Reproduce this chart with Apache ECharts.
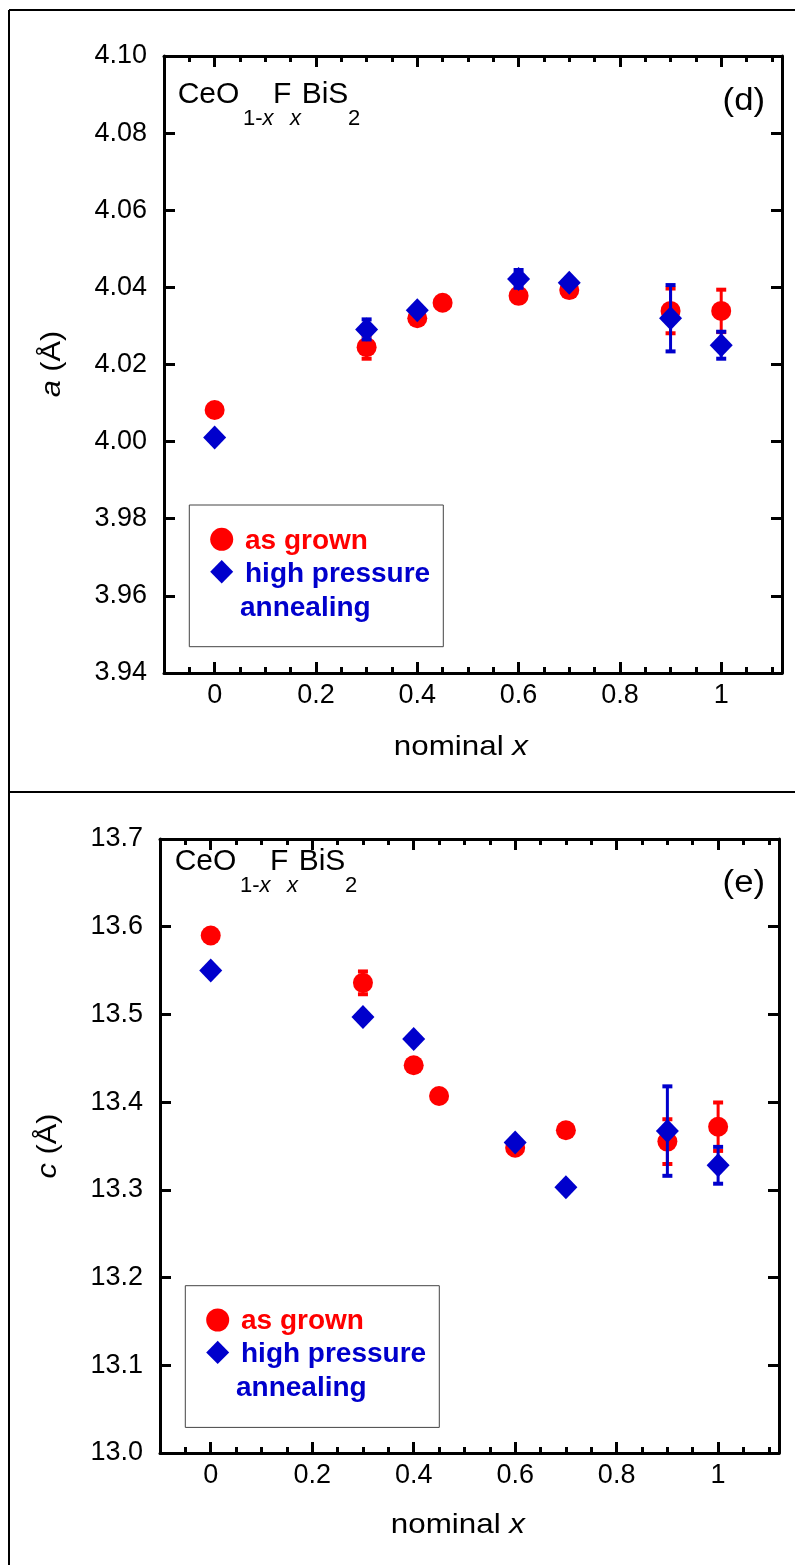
<!DOCTYPE html>
<html>
<head>
<meta charset="utf-8">
<script src="https://cdn.jsdelivr.net/npm/echarts@6/dist/echarts.min.js"></script>
<style>
html,body{margin:0;padding:0;background:#fff;}
#chart{width:795px;height:1565px;}
</style>
</head>
<body>
<div id="chart"></div>
<script>
// ---------- data ----------
const xGrown = [0, 0.3, 0.4, 0.45, 0.6, 0.7, 0.9, 1.0];
const xHP = [0, 0.3, 0.4, 0.6, 0.7, 0.9, 1.0];

const aGrown    = [4.0082, 4.0245, 4.0320, 4.0360, 4.0378, 4.0393, 4.0339, 4.0339];
const aGrownErr = [0, 0.0030, 0, 0, 0, 0, 0.0058, 0.0055];
const aHP       = [4.0011, 4.0291, 4.0341, 4.0422, 4.0412, 4.0320, 4.0250];
const aHPErr    = [0, 0.0026, 0, 0.0023, 0, 0.0086, 0.0035];

const cGrown    = [13.590, 13.536, 13.442, 13.407, 13.348, 13.368, 13.355, 13.372];
const cGrownErr = [0, 0.013, 0, 0, 0, 0, 0.0255, 0.0276];
const cHP       = [13.550, 13.497, 13.472, 13.354, 13.303, 13.367, 13.328];
const cHPErr    = [0, 0, 0, 0, 0, 0.051, 0.021];

const xMajor = [0, 0.2, 0.4, 0.6, 0.8, 1.0];
const xMinor = [-0.05, 0.05, 0.1, 0.15, 0.25, 0.3, 0.35, 0.45, 0.5, 0.55, 0.65, 0.7, 0.75, 0.85, 0.9, 0.95, 1.05, 1.1];
const xLabels = ['0', '0.2', '0.4', '0.6', '0.8', '1'];

const legendGrown = 'as grown';
const legendHP1 = 'high pressure';
const legendHP2 = 'annealing';

// ---------- helpers ----------
const RED = '#ff0000', BLUE = '#0000cc';
const FONT = '"Liberation Sans", Arial, Helvetica, sans-serif';

function pairs(xs, ys, es) { return xs.map((x, i) => [x, ys[i], es[i]]); }

function errRender(color) {
  return function (params, api) {
    const x = api.value(0), y = api.value(1), e = api.value(2);
    if (!e) return null;
    const t = api.coord([x, y + e]), b = api.coord([x, y - e]);
    const hw = 5;
    return {
      type: 'group', children: [
        { type: 'line', shape: { x1: t[0], y1: t[1], x2: b[0], y2: b[1] }, style: { stroke: color, lineWidth: 3 } },
        { type: 'line', shape: { x1: t[0] - hw, y1: t[1], x2: t[0] + hw, y2: t[1] }, style: { stroke: color, lineWidth: 4 } },
        { type: 'line', shape: { x1: b[0] - hw, y1: b[1], x2: b[0] + hw, y2: b[1] }, style: { stroke: color, lineWidth: 4 } }
      ]
    };
  };
}

function xAxes(gi) {
  const base = { type: 'value', gridIndex: gi, min: -0.1, max: 1.12, splitLine: { show: false } };
  const line = { show: true, onZero: false, lineStyle: { color: '#000', width: 3 } };
  return [
    Object.assign({}, base, {
      position: 'bottom', axisLine: line,
      axisTick: { show: true, inside: true, length: 11, lineStyle: { color: '#000', width: 3 }, customValues: xMajor },
      axisLabel: { show: true, margin: 9, color: '#000', fontSize: 27, fontFamily: FONT, customValues: xMajor,
        formatter: v => xLabels[xMajor.findIndex(m => Math.abs(m - v) < 1e-6)] }
    }),
    Object.assign({}, base, {
      position: 'bottom', axisLine: { show: false },
      axisTick: { show: true, inside: true, length: 6, lineStyle: { color: '#000', width: 3 }, customValues: xMinor },
      axisLabel: { show: false }
    }),
    Object.assign({}, base, {
      position: 'top', axisLine: line,
      axisTick: { show: true, inside: true, length: 11, lineStyle: { color: '#000', width: 3 }, customValues: xMajor },
      axisLabel: { show: false }
    }),
    Object.assign({}, base, {
      position: 'top', axisLine: { show: false },
      axisTick: { show: true, inside: true, length: 6, lineStyle: { color: '#000', width: 3 }, customValues: xMinor },
      axisLabel: { show: false }
    })
  ];
}

function yAxes(gi, min, max, interval, dec) {
  const base = { type: 'value', gridIndex: gi, min: min, max: max, interval: interval, splitLine: { show: false } };
  const line = { show: true, onZero: false, lineStyle: { color: '#000', width: 3 } };
  const tick = { show: true, inside: true, length: 11, lineStyle: { color: '#000', width: 3 } };
  return [
    Object.assign({}, base, {
      position: 'left', axisLine: line, axisTick: tick,
      axisLabel: { show: true, margin: 17, color: '#000', fontSize: 27, fontFamily: FONT, formatter: v => v.toFixed(dec) }
    }),
    Object.assign({}, base, {
      position: 'right', axisLine: line, axisTick: tick, axisLabel: { show: false }
    })
  ];
}

function panelSeries(gi, yGrown, eGrown, yHP, eHP) {
  const xi = gi * 4, yi = gi * 2;
  return [
    { type: 'custom', xAxisIndex: xi, yAxisIndex: yi, renderItem: errRender(RED), data: pairs(xGrown, yGrown, eGrown), encode: { x: 0, y: 1 }, z: 2 },
    { type: 'scatter', xAxisIndex: xi, yAxisIndex: yi, symbol: 'circle', symbolSize: 20, itemStyle: { color: RED, opacity: 1 },
      data: xGrown.map((x, i) => [x, yGrown[i]]), z: 3 },
    { type: 'custom', xAxisIndex: xi, yAxisIndex: yi, renderItem: errRender(BLUE), data: pairs(xHP, yHP, eHP), encode: { x: 0, y: 1 }, z: 4 },
    { type: 'scatter', xAxisIndex: xi, yAxisIndex: yi, symbol: 'diamond', symbolSize: [23, 24], itemStyle: { color: BLUE, opacity: 1 },
      data: xHP.map((x, i) => [x, yHP[i]]), z: 5 }
  ];
}

function txt(x, y, text, size, opts) {
  return Object.assign({
    type: 'text', x: x, y: y, z: 100,
    style: Object.assign({ text: text, font: size + 'px ' + FONT, fill: '#000', align: 'left', verticalAlign: 'middle' }, (opts && opts.style) || {})
  }, opts && opts.el || {});
}

function formula(dx, dy) {
  const M = 30, S = 22;
  return [
    txt(177.7 + dx, 95 + dy, 'CeO', M),
    { type: 'text', x: 243 + dx, y: 119 + dy, z: 100, style: { text: '{n|1-}{i|x}', align: 'left', verticalAlign: 'middle',
      rich: { n: { fontSize: S, fontFamily: FONT, fill: '#000' }, i: { fontSize: S, fontFamily: FONT, fontStyle: 'italic', fill: '#000' } } } },
    txt(273 + dx, 95 + dy, 'F', M),
    { type: 'text', x: 290 + dx, y: 119 + dy, z: 100, style: { text: 'x', font: 'italic ' + S + 'px ' + FONT, fill: '#000', align: 'left', verticalAlign: 'middle' } },
    txt(301.7 + dx, 95 + dy, 'BiS', M),
    txt(348 + dx, 119 + dy, '2', S)
  ];
}

function legendBox(dx, dy) {
  return [
    { type: 'rect', shape: { x: 189.3 + dx, y: 505 + dy, width: 254, height: 141.7 }, style: { fill: '#fff', stroke: '#444', lineWidth: 1 }, z: 90 },
    { type: 'circle', shape: { cx: 221.7 + dx, cy: 539.3 + dy, r: 11.5 }, style: { fill: RED }, z: 100 },
    { type: 'polygon', shape: { points: [[221.7 + dx, 560 + dy], [233.2 + dx, 571.7 + dy], [221.7 + dx, 583.4 + dy], [210.2 + dx, 571.7 + dy]] }, style: { fill: BLUE }, z: 100 },
    { type: 'text', x: 245 + dx, y: 541 + dy, z: 100, style: { text: legendGrown, font: 'bold 28px ' + FONT, fill: RED, verticalAlign: 'middle' } },
    { type: 'text', x: 245 + dx, y: 574 + dy, z: 100, style: { text: legendHP1, font: 'bold 28px ' + FONT, fill: BLUE, verticalAlign: 'middle' } },
    { type: 'text', x: 240 + dx, y: 608 + dy, z: 100, style: { text: legendHP2, font: 'bold 28px ' + FONT, fill: BLUE, verticalAlign: 'middle' } }
  ];
}

function yTitle(cx, cy, letter) {
  return { type: 'text', x: cx, y: cy, rotation: Math.PI / 2, scaleX: 1.1, z: 100,
    style: { text: '{i|' + letter + '}{n| (Å)}', align: 'center', verticalAlign: 'middle',
      rich: { i: { fontSize: 28, fontFamily: FONT, fontStyle: 'italic', fill: '#000' }, n: { fontSize: 28, fontFamily: FONT, fill: '#000' } } } };
}

function xTitle(rx, cy) {
  return { type: 'text', x: rx, y: cy, scaleX: 1.12, z: 100,
    style: { text: '{n|nominal }{i|x}', align: 'right', verticalAlign: 'middle',
      rich: { n: { fontSize: 28, fontFamily: FONT, fill: '#000' }, i: { fontSize: 28, fontFamily: FONT, fontStyle: 'italic', fill: '#000' } } } };
}

const graphics = [
  { type: 'line', shape: { x1: 9, y1: 10, x2: 795, y2: 10 }, style: { stroke: '#000', lineWidth: 2 }, z: 100 },
  { type: 'line', shape: { x1: 9, y1: 10, x2: 9, y2: 1565 }, style: { stroke: '#000', lineWidth: 2 }, z: 100 },
  { type: 'line', shape: { x1: 9, y1: 792, x2: 795, y2: 792 }, style: { stroke: '#000', lineWidth: 2 }, z: 100 }
]
  .concat(formula(0, 0))
  .concat(formula(-3, 767))
  .concat([
    txt(765, 101, '(d)', 31, { style: { align: 'right' }, el: { scaleX: 1.12 } }),
    txt(765, 883, '(e)', 31, { style: { align: 'right' }, el: { scaleX: 1.12 } }),
    yTitle(52, 364, 'a'),
    yTitle(48, 1146, 'c'),
    xTitle(528, 747),
    xTitle(525, 1525)
  ])
  .concat(legendBox(0, 0))
  .concat(legendBox(-4, 780.7));

const option = {
  animation: false,
  backgroundColor: '#fff',
  textStyle: { fontFamily: FONT },
  grid: [
    { left: 164, top: 56, right: 13, height: 617 },
    { left: 160, top: 839, right: 16, height: 614 }
  ],
  xAxis: xAxes(0).concat(xAxes(1)),
  yAxis: yAxes(0, 3.94, 4.10, 0.02, 2).concat(yAxes(1, 13.0, 13.7, 0.1, 1)),
  series: panelSeries(0, aGrown, aGrownErr, aHP, aHPErr).concat(panelSeries(1, cGrown, cGrownErr, cHP, cHPErr)),
  graphic: { elements: graphics }
};

const chart = echarts.init(document.getElementById('chart'), null, { renderer: 'canvas' });
chart.setOption(option);
</script>
</body>
</html>
